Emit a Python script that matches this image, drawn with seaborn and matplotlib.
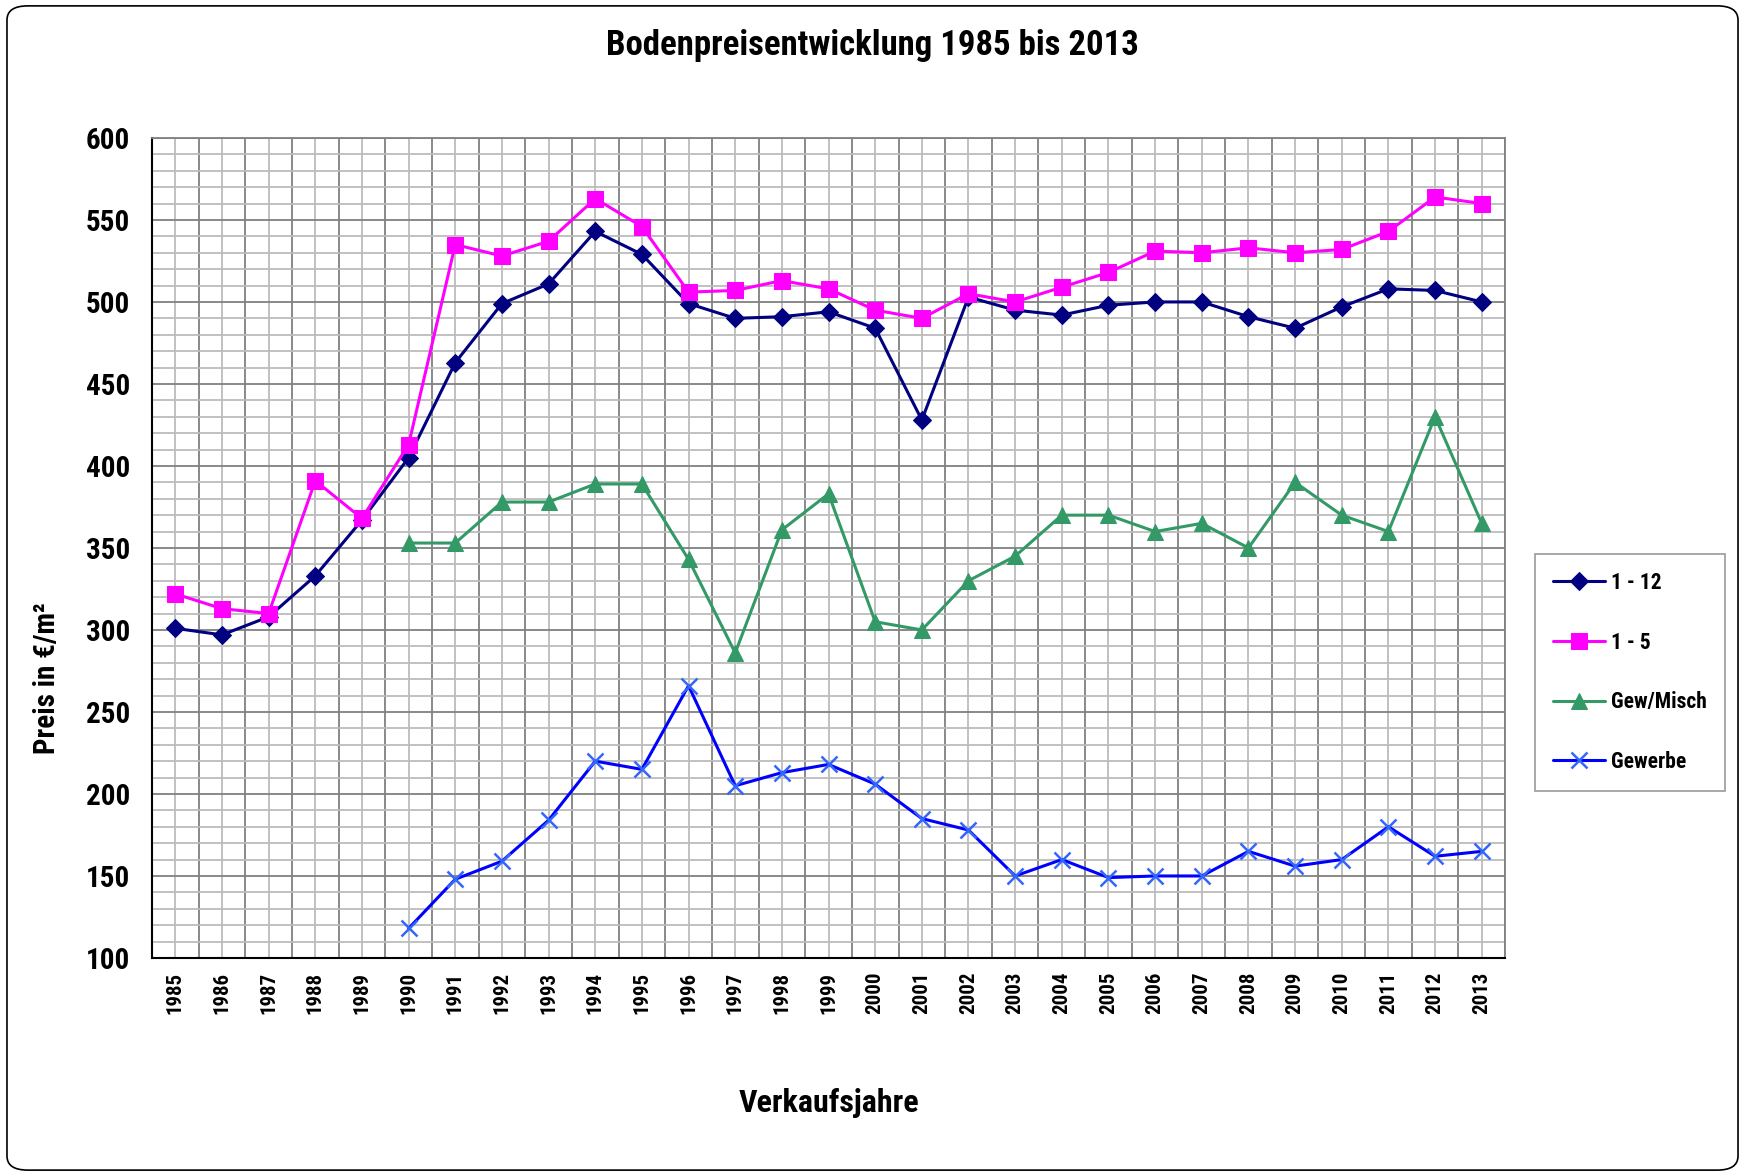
import numpy as np
import pandas as pd
import matplotlib
matplotlib.use("Agg")
import matplotlib.pyplot as plt
import seaborn as sns
from matplotlib.patches import FancyBboxPatch
from matplotlib import font_manager

years = list(range(1985, 2014))
years_late = list(range(1990, 2014))

wohn_1_12 = [301, 297, 308, 333, 367, 405, 463, 499, 511, 543, 529, 499, 490, 491, 494,
             484, 428, 503, 495, 492, 498, 500, 500, 491, 484, 497, 508, 507, 500]
wohn_1_5 = [322, 313, 310, 391, 368, 413, 535, 528, 537, 563, 546, 506, 507, 513, 508,
            495, 490, 505, 500, 509, 518, 531, 530, 533, 530, 532, 543, 564, 560]
gew_misch = [353, 353, 378, 378, 389, 389, 343, 286, 361, 383, 305, 300, 330, 345, 370,
             370, 360, 365, 350, 390, 370, 360, 430, 365]
gewerbe = [118, 148, 159, 184, 220, 215, 266, 205, 213, 218, 206, 185, 178, 150, 160,
           149, 150, 150, 165, 156, 160, 180, 162, 165]

sns.set_style("white")
names = {f.name for f in font_manager.fontManager.ttflist}
narrow = [n for n in ['Liberation Sans Narrow', 'Arial Narrow', 'Roboto Condensed',
                      'Open Sans Condensed'] if n in names]
plt.rcParams['font.family'] = narrow + ['DejaVu Sans']
plt.rcParams['font.stretch'] = 'condensed'
plt.rcParams['font.weight'] = 'bold'
for k in ['text.color', 'axes.labelcolor', 'xtick.color', 'ytick.color']:
    plt.rcParams[k] = 'black'

fig = plt.figure(figsize=(17.45, 11.76), dpi=100)
fig.patches.append(FancyBboxPatch((0.004, 0.005), 0.992, 0.99, boxstyle="round,pad=0,rounding_size=0.012",
                                  transform=fig.transFigure, fill=False, edgecolor='black', linewidth=1.2))
ax = fig.add_axes([0.0871, 0.1854, 0.7754, 0.6973])

sns.lineplot(x=years, y=wohn_1_12, ax=ax, color='#000080', marker='D', markersize=9,
             markeredgecolor='#000080', linewidth=2.2, label='1 - 12')
sns.lineplot(x=years, y=wohn_1_5, ax=ax, color='#FF00FF', marker='s', markersize=11,
             markeredgecolor='#FF00FF', linewidth=2.2, label='1 - 5')
sns.lineplot(x=years_late, y=gew_misch, ax=ax, color='#339966', marker='^', markersize=11,
             markeredgecolor='#339966', linewidth=2.2, label='Gew/Misch')
sns.lineplot(x=years_late, y=gewerbe, ax=ax, color='#0000FF', marker='x', markersize=11,
             markeredgecolor='#3366FF', markeredgewidth=1.8, linewidth=2.2, label='Gewerbe')

ax.set_xlim(1984.5, 2013.5)
ax.set_ylim(100, 600)

# vertical grid: dark at category boundaries, light at category centres
ax.set_xticks(np.arange(1984.5, 2014, 1.0))
ax.set_xticklabels([])
ax.set_xticks(years, minor=True)
ax.set_xticklabels([str(y) for y in years], minor=True, rotation=90, fontsize=15, fontweight='bold')
ax.set_yticks(np.arange(100, 601, 50))
ax.set_yticklabels([str(v) for v in range(100, 601, 50)], fontsize=21, fontweight='bold')
ax.set_yticks(np.arange(100, 601, 10), minor=True)

ax.grid(True, which='major', color='#808080', linewidth=1.3)
ax.grid(True, which='minor', color='#bcbcbc', linewidth=1.3)
ax.set_axisbelow(True)
ax.tick_params(axis='x', which='major', direction='out', length=5, width=1.2, color='black')
ax.tick_params(axis='x', which='minor', length=0, pad=10)
ax.tick_params(axis='y', which='major', direction='out', length=5, width=1.2, color='black', pad=11)
ax.tick_params(axis='y', which='minor', direction='in', length=5, width=1.2, color='black')

for s in ['left', 'bottom']:
    ax.spines[s].set_color('black')
    ax.spines[s].set_linewidth(1.5)
for s in ['top', 'right']:
    ax.spines[s].set_color('#808080')
    ax.spines[s].set_linewidth(1.3)

ax.set_xlabel('Verkaufsjahre', fontsize=23, fontweight='bold')
ax.xaxis.set_label_coords(0.5, -0.158)
ax.set_ylabel('Preis in €/m²', fontsize=21, fontweight='bold')
ax.yaxis.set_label_coords(-0.067, 0.341)
fig.text(0.5, 0.961, 'Bodenpreisentwicklung 1985 bis 2013', ha='center', va='center',
         fontsize=25, fontweight='bold')

leg = ax.legend(loc='upper left', bbox_to_anchor=(1.022, 0.493), frameon=True, fancybox=False,
                edgecolor='#808080', fontsize=15.5, labelspacing=1.75, handlelength=2.4,
                borderpad=0.85, handletextpad=0.3, borderaxespad=0)
for t in leg.get_texts():
    t.set_fontweight('bold')
leg.get_frame().set_linewidth(1.2)

fig.savefig('out.png', dpi=100)
